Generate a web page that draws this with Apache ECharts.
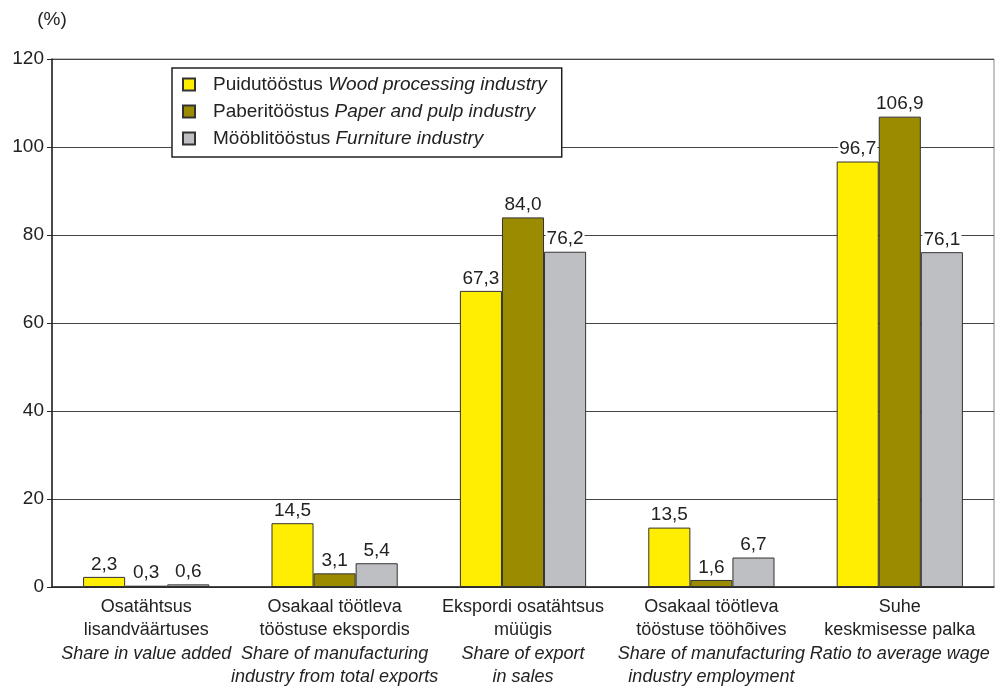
<!DOCTYPE html>
<html>
<head>
<meta charset="utf-8">
<script src="https://cdn.jsdelivr.net/npm/echarts@6/dist/echarts.min.js"></script>
<style>
  html, body { margin: 0; padding: 0; background: #fff; }
  #chart { width: 999px; height: 689px; }
</style>
</head>
<body>
<div id="chart"></div>
<script>
// categories: Estonian line(s) + English line(s)
const categoriesEt = [
    'Osatähtsus\nlisandväärtuses',
    'Osakaal töötleva\ntööstuse ekspordis',
    'Ekspordi osatähtsus\nmüügis',
    'Osakaal töötleva\ntööstuse tööhõives',
    'Suhe\nkeskmisesse palka'
]
const categoriesEn = [
    'Share in value added',
    'Share of manufacturing\nindustry from total exports',
    'Share of export\nin sales',
    'Share of manufacturing\nindustry employment',
    'Ratio to average wage'
]
const woodValues = [2.3, 14.5, 67.3, 13.5, 96.7]
const paperValues = [0.3, 3.1, 84.0, 1.6, 106.9]
const furnitureValues = [0.6, 5.4, 76.2, 6.7, 76.1]
const seriesNamesEt = ['Puidutööstus', 'Paberitööstus', 'Mööblitööstus']
const seriesNamesEn = ['Wood processing industry', 'Paper and pulp industry', 'Furniture industry']
const yTicks = [0, 20, 40, 60, 80, 100, 120]

const FONT = 'Liberation Sans'
const colors = ['#FFEE00', '#9A8B00', '#BEBFC3']

let chart = echarts.init(document.getElementById('chart'))

function fmt(v) {
    return v.toFixed(1).replace('.', ',')
}

function makeSeries(idx, data) {
    return {
        name: seriesNamesEt[idx],
        type: 'bar',
        data: data,
        barGap: 0,
        barCategoryGap: '33%',
        itemStyle: {
            color: colors[idx],
            borderColor: '#333',
            borderWidth: 1
        },
        label: {
            show: true,
            position: 'top',
            distance: 3,
            formatter: function (p) { return fmt(p.value) },
            fontFamily: FONT,
            fontSize: 19,
            color: '#222',
            backgroundColor: '#fff',
            padding: [0, 1, 0, 1]
        },
        emphasis: { disabled: true }
    }
}

const option = {
    animation: false,
    textStyle: { fontFamily: FONT },
    grid: {
        left: 52,
        right: 5,
        top: 59,
        bottom: 102,
        show: true,
        borderColor: '#888',
        borderWidth: 1
    },
    legend: {
        orient: 'vertical',
        left: 172,
        top: 68,
        padding: [7, 15, 9, 10],
        borderColor: '#222',
        borderWidth: 1.5,
        backgroundColor: '#fff',
        icon: 'rect',
        itemWidth: 12,
        itemHeight: 12,
        itemGap: 8,
        selectedMode: false,
        data: seriesNamesEt,
        formatter: function (name) {
            let i = seriesNamesEt.indexOf(name)
            return '{a|' + name + ' }{b|' + seriesNamesEn[i] + '}'
        },
        textStyle: {
            padding: [0, 0, 0, 13],
            rich: {
                a: { fontFamily: FONT, fontSize: 19, color: '#222' },
                b: { fontFamily: FONT, fontSize: 19, color: '#222', fontStyle: 'italic' }
            }
        }
    },
    xAxis: {
        type: 'category',
        data: categoriesEt.map(function (c, i) { return c + '\n' + categoriesEn[i] }),
        axisTick: { show: false },
        axisLine: { lineStyle: { color: '#222', width: 1.5 } },
        axisLabel: {
            margin: 8,
            interval: 0,
            formatter: function (val, i) {
                let et = categoriesEt[i].split('\n').map(function (s) { return '{a|' + s + '}' })
                let en = categoriesEn[i].split('\n').map(function (s) { return '{b|' + s + '}' })
                return et.concat(en).join('\n')
            },
            rich: {
                a: { fontFamily: FONT, fontSize: 18, color: '#222', lineHeight: 23.5 },
                b: { fontFamily: FONT, fontSize: 18, color: '#222', fontStyle: 'italic', lineHeight: 23.5 }
            }
        }
    },
    yAxis: {
        type: 'value',
        min: 0,
        max: 120,
        interval: 20,
        name: '(%)',
        nameLocation: 'end',
        nameGap: 30,
        nameTextStyle: { fontFamily: FONT, fontSize: 19, color: '#222', align: 'center' },
        axisLine: { show: true, lineStyle: { color: '#222', width: 1.5 } },
        axisTick: { show: true, length: 5, lineStyle: { color: '#222' } },
        axisLabel: {
            margin: 8,
            fontFamily: FONT,
            fontSize: 19,
            color: '#222',
            customValues: yTicks
        },
        splitLine: { show: true, lineStyle: { color: '#444', width: 1 } }
    },
    series: [
        makeSeries(0, woodValues),
        makeSeries(1, paperValues),
        makeSeries(2, furnitureValues)
    ]
}

chart.setOption(option)
</script>
</body>
</html>
